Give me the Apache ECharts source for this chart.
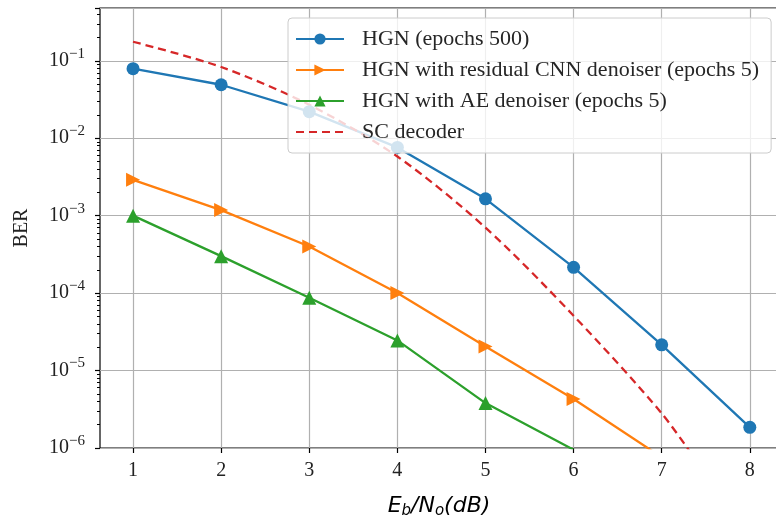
<!DOCTYPE html>
<html>
<head>
<meta charset="utf-8">
<script src="https://cdn.jsdelivr.net/npm/echarts@6/dist/echarts.min.js"></script>
<style>
  body { margin: 0; background: #fff; }
  #chart { width: 776px; height: 517px; }
</style>
</head>
<body>
<div id="chart"></div>
<script>
// Eb/No points (dB)
var snr = [1, 2, 3, 4, 5, 6, 7, 8];
var hgn = [0.079, 0.049, 0.022, 0.0076, 0.00165, 0.000215, 2.15e-5, 1.85e-6];
var hgnCnn = [0.0029, 0.00118, 0.0004, 0.0001, 2.05e-5, 4.3e-6, 7.6e-7];
var hgnAe = [0.001, 0.0003, 8.7e-5, 2.45e-5, 3.8e-6, 9.5e-7];
var scSnr = [1, 2, 3, 4, 5, 6, 7, 7.5];
var scDec = [0.176, 0.083, 0.027, 0.0058, 0.0007, 5.1e-5, 2.8e-6, 4.5e-7];
var xTicks = [1, 2, 3, 4, 5, 6, 7, 8];

var names = ['HGN (epochs 500)', 'HGN with residual CNN denoiser (epochs 5)',
  'HGN with AE denoiser (epochs 5)', 'SC decoder'];

function pairs(xs, ys) {
  return ys.map(function (v, i) { return [xs[i], v]; });
}

// minor tick spots of the log axis (2..9 x 10^k), in log10 units for the helper axis
var minorTicks = [];
for (var e = -6; e < 0; e++) {
  for (var k = 2; k <= 9; k++) {
    var lv = Math.log10(k * Math.pow(10, e));
    if (lv < Math.log10(0.48)) minorTicks.push(lv);
  }
}

var serif = 'Liberation Serif';
var chart = echarts.init(document.getElementById('chart'));
chart.setOption({
  animation: false,
  backgroundColor: '#fff',
  grid: {
    left: 100, top: 8, width: 678, height: 440,
    outerBoundsMode: 'none',
    show: true, borderColor: '#000', borderWidth: 1.2, backgroundColor: 'transparent'
  },
  legend: {
    orient: 'vertical',
    left: 288, top: 18, z: 10,
    padding: [10, 12, 10, 7],
    itemWidth: 48, itemHeight: 14, itemGap: 9,
    backgroundColor: 'rgba(255,255,255,0.8)',
    borderColor: '#cccccc', borderWidth: 1, borderRadius: 4,
    textStyle: { fontFamily: serif, fontSize: 22, color: '#262626', lineHeight: 22, padding: [0, 0, 0, 13] },
    data: [names[0], names[1], names[2], { name: names[3], itemStyle: { opacity: 0 } }]
  },
  xAxis: {
    type: 'value', min: 0.625, max: 8.32,
    name: '{i|E}{sub|b}{i|/N}{sub|o}{i|(dB)}',
    nameLocation: 'middle', nameGap: 46,
    nameTextStyle: {
      rich: {
        i: { fontFamily: 'DejaVu Sans', fontStyle: 'italic', fontSize: 22, color: '#000' },
        sub: { fontFamily: 'DejaVu Sans', fontStyle: 'italic', fontSize: 15, color: '#000', padding: [10, 0, 0, 0] }
      }
    },
    axisLine: { show: false },
    axisTick: { show: true, inside: false, length: 5, lineStyle: { color: '#000', width: 1.2 }, customValues: xTicks },
    axisLabel: { customValues: xTicks, fontFamily: serif, fontSize: 20, color: '#222', margin: 13 },
    splitLine: { show: true, lineStyle: { color: '#b0b0b0', width: 1.2 } }
  },
  yAxis: [{
    type: 'log', min: 1e-6, max: 0.48, logBase: 10,
    name: 'BER', nameLocation: 'middle', nameGap: 68, nameRotate: 90,
    nameTextStyle: { fontFamily: serif, fontSize: 20, color: '#222' },
    axisLine: { show: false },
    axisTick: { show: true, length: 5, lineStyle: { color: '#000', width: 1.2 } },
    axisLabel: {
      margin: 15,
      formatter: function (v) {
        var p = Math.log10(v);
        var r = Math.round(p);
        if (Math.abs(p - r) > 1e-6) return '';
        return '{b|10}{s|−' + (-r) + '}';
      },
      rich: {
        b: { fontFamily: serif, fontSize: 20, color: '#222' },
        s: { fontFamily: serif, fontSize: 15, color: '#222', padding: [0, 0, 14, 0] }
      }
    },
    splitLine: { show: true, lineStyle: { color: '#b0b0b0', width: 1.2 } }
  }, {
    // helper axis only for minor ticks
    type: 'value', min: -6, max: Math.log10(0.48), position: 'left',
    axisLine: { show: false },
    axisTick: { show: true, length: 3, lineStyle: { color: '#000', width: 1 }, customValues: minorTicks },
    axisLabel: { show: false },
    splitLine: { show: false }
  }],
  series: [{
    name: names[0], type: 'line', data: pairs(snr, hgn),
    color: '#1f77b4', symbol: 'circle', symbolSize: 13,
    lineStyle: { width: 2.3 }, clip: true, z: 2
  }, {
    name: names[1], type: 'line', data: pairs(snr, hgnCnn),
    color: '#ff7f0e', symbol: 'triangle', symbolRotate: -90, symbolSize: 14,
    lineStyle: { width: 2.3 }, clip: true, z: 2
  }, {
    name: names[2], type: 'line', data: pairs(snr, hgnAe),
    color: '#2ca02c', symbol: 'triangle', symbolSize: 14,
    lineStyle: { width: 2.3 }, clip: true, z: 2
  }, {
    name: names[3], type: 'line', data: pairs(scSnr, scDec),
    color: '#d62728', symbol: 'none', smooth: 0.3,
    lineStyle: { width: 2.3, type: [8, 5] }, clip: true, z: 2
  }]
});
</script>
</body>
</html>
